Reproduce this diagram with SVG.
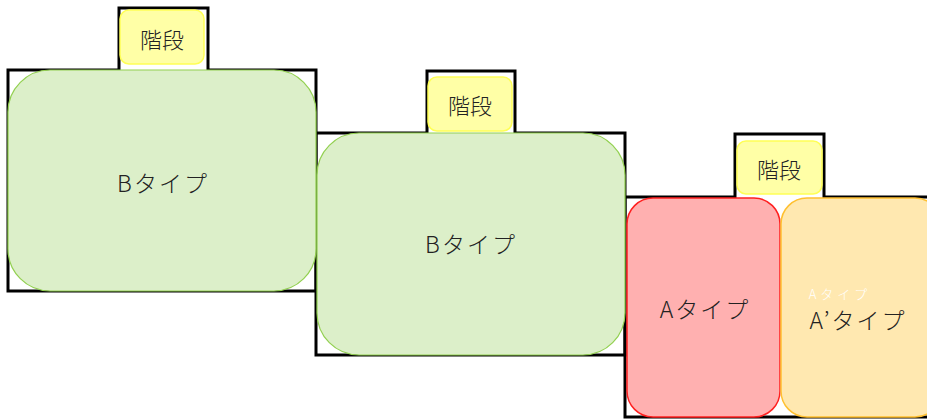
<svg xmlns="http://www.w3.org/2000/svg" width="927" height="419" viewBox="0 0 927 419">
<style>
.frame{fill:none;stroke:#000;stroke-width:3}
.b{fill:#dcefc9;stroke:#92d050;stroke-width:1.2}
.st{fill:#ffffa6;stroke:#ffff55;stroke-width:1.5}
.a{fill:#ffb0b0;stroke:#ff2020;stroke-width:1.5}
.a2{fill:#ffe8b0;stroke:#ffc030;stroke-width:1.5}
text{font-family:"Noto Sans CJK JP","Noto Sans",sans-serif;fill:#222;text-anchor:middle;dominant-baseline:central;font-weight:300}
.lbl{font-size:23px;letter-spacing:2px}
.stt{font-size:22px}
.sm{font-size:13px;fill:#fff;letter-spacing:4px}
</style>
<rect width="927" height="419" fill="#fff"/>
<g id="frames">
<path class="frame" d="M8,70 H119 V8 H208 V70 H316 V291 H8 Z"/>
<path class="frame" d="M316,133 H427 V71 H515 V133 H625 V355 H316 Z"/>
<path class="frame" d="M625,197 H735 V134 H824 V197 H930 V417 H625 Z"/>
</g>
<g id="stair1"><rect class="st" x="120" y="10" width="84" height="54" rx="9"/><text class="stt" x="162" y="38">階段</text></g>
<g id="stair2"><rect class="st" x="428" y="77" width="84" height="54" rx="9"/><text class="stt" x="470" y="104">階段</text></g>
<g id="stair3"><rect class="st" x="737" y="141" width="85" height="53" rx="9"/><text class="stt" x="779" y="168">階段</text></g>
<g id="b1"><rect class="b" x="8" y="70" width="308" height="221" rx="42"/><text class="lbl" x="163" y="182">Bタイプ</text></g>
<g id="b2"><rect class="b" x="317" y="133" width="308" height="222" rx="42"/><text class="lbl" x="471" y="243">Bタイプ</text></g>
<g id="a1"><rect class="a" x="627" y="198" width="153" height="219" rx="26"/><text class="lbl" x="705" y="308">Aタイプ</text></g>
<g id="a2"><rect class="a2" x="781" y="198" width="160" height="219" rx="26"/><text class="sm" x="840" y="293">Aタイプ</text><text class="lbl" x="858" y="319">A’タイプ</text></g>
</svg>
